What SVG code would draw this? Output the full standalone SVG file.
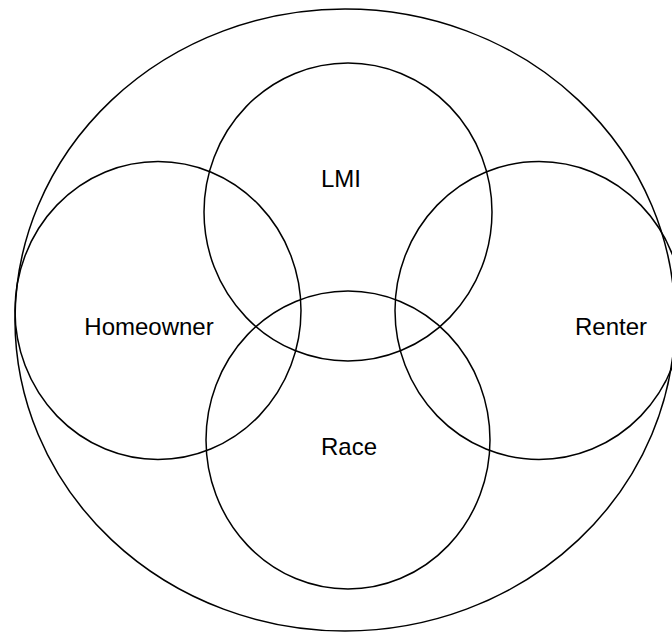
<svg xmlns="http://www.w3.org/2000/svg" width="672" height="633" viewBox="0 0 672 633">
<style>
.c{fill:none;stroke:#000;stroke-width:1.5}
.t{font-family:"Liberation Sans",Arial,sans-serif;font-size:24px;fill:#000;text-anchor:middle}
</style>
<rect width="672" height="633" fill="#fff"/>
<g id="universe"><ellipse class="c" cx="345" cy="320" rx="330" ry="311"/></g>
<g id="lmi"><ellipse class="c" cx="348" cy="212" rx="144" ry="149"/><text class="t" x="341" y="187">LMI</text></g>
<g id="homeowner"><ellipse class="c" cx="158" cy="310.5" rx="143" ry="149"/><text class="t" x="149" y="335">Homeowner</text></g>
<g id="renter"><ellipse class="c" cx="539" cy="310.5" rx="144" ry="149"/><text class="t" x="611" y="335">Renter</text></g>
<g id="race"><ellipse class="c" cx="348" cy="440" rx="142" ry="149"/><text class="t" x="349" y="455">Race</text></g>
<g id="connectors"/>
</svg>
